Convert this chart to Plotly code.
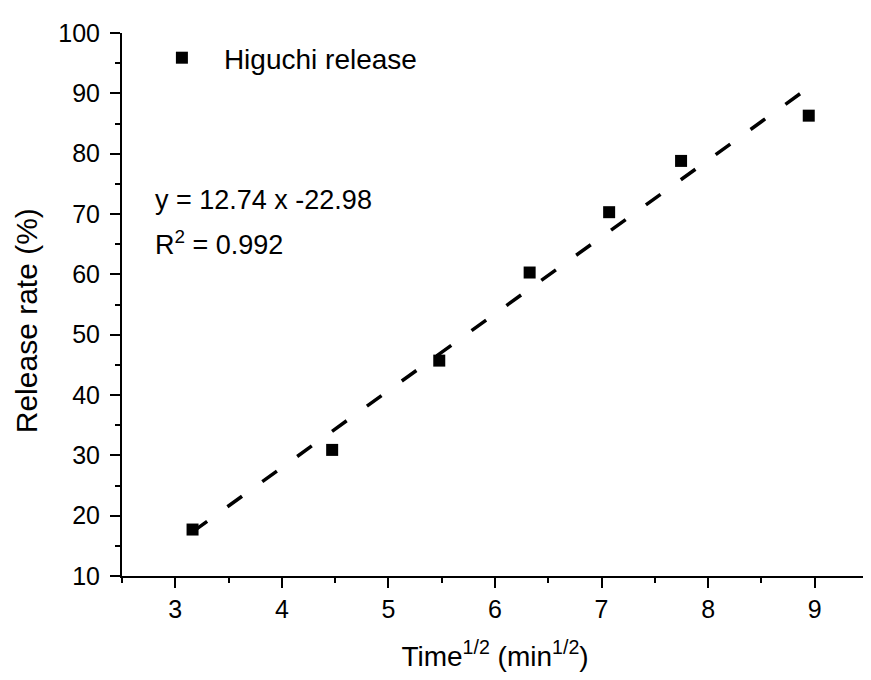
import plotly.graph_objects as go

time_sqrt = [3.162, 4.472, 5.477, 6.325, 7.071, 7.746, 8.944]
release = [17.7, 30.9, 45.7, 60.3, 70.3, 78.8, 86.3]
slope = 12.74
intercept = -22.98
fit_x = [time_sqrt[0], time_sqrt[-1]]
fit_y = [slope * v + intercept for v in fit_x]

FONT = "Liberation Sans, Arial, sans-serif"

fig = go.Figure()
fig.add_trace(go.Scatter(
    x=fit_x, y=fit_y, mode="lines",
    line=dict(color="black", width=3.5, dash="18px,25px"),
    showlegend=False, hoverinfo="skip"))
fig.add_trace(go.Scatter(
    x=time_sqrt, y=release, mode="markers", name="Higuchi release",
    marker=dict(symbol="square", size=12, color="black")))

fig.add_annotation(xref="paper", yref="paper", x=0.041, y=0.692, xanchor="left", yanchor="middle",
                   text="y = 12.74 x -22.98", showarrow=False, font=dict(size=27, color="black", family=FONT))
fig.add_annotation(xref="paper", yref="paper", x=0.041, y=0.6125, xanchor="left", yanchor="middle",
                   text="R<sup>2</sup> = 0.992", showarrow=False, font=dict(size=27, color="black", family=FONT))
# y-axis title
fig.add_annotation(xref="paper", yref="paper", x=-0.1287, y=0.471, xanchor="center", yanchor="middle",
                   textangle=-90, text="Release rate (%)", showarrow=False,
                   font=dict(size=30, color="black", family=FONT))

axis_common = dict(
    showline=True, linecolor="black", linewidth=2, mirror=False,
    ticks="outside", ticklen=10, tickwidth=2, tickcolor="black",
    showgrid=False, zeroline=False,
    tickfont=dict(size=25, color="black", family=FONT),
)
fig.update_xaxes(range=[2.5, 9.5], dtick=1, tick0=3,
                 minor=dict(ticks="outside", ticklen=5, tickwidth=2, tickcolor="black", dtick=0.5, tick0=2.5),
                 title=dict(text="Time<sup>1/2</sup> (min<sup>1/2</sup>)", font=dict(size=28, color="black", family=FONT), standoff=24),
                 **axis_common)
fig.update_yaxes(range=[10, 100], dtick=10, tick0=10, ticklabelstandoff=5,
                 minor=dict(ticks="outside", ticklen=5, tickwidth=2, tickcolor="black", dtick=5, tick0=10),
                 **axis_common)

fig.update_layout(
    width=871, height=680,
    margin=dict(l=114, r=11, t=16, b=112),
    plot_bgcolor="white", paper_bgcolor="white",
    font=dict(family=FONT, color="black"),
    legend=dict(x=0.024, y=1.0, xanchor="left", yanchor="top",
                font=dict(size=28, color="black", family=FONT),
                bgcolor="rgba(0,0,0,0)", itemwidth=74),
)

fig.write_html("out.html")
